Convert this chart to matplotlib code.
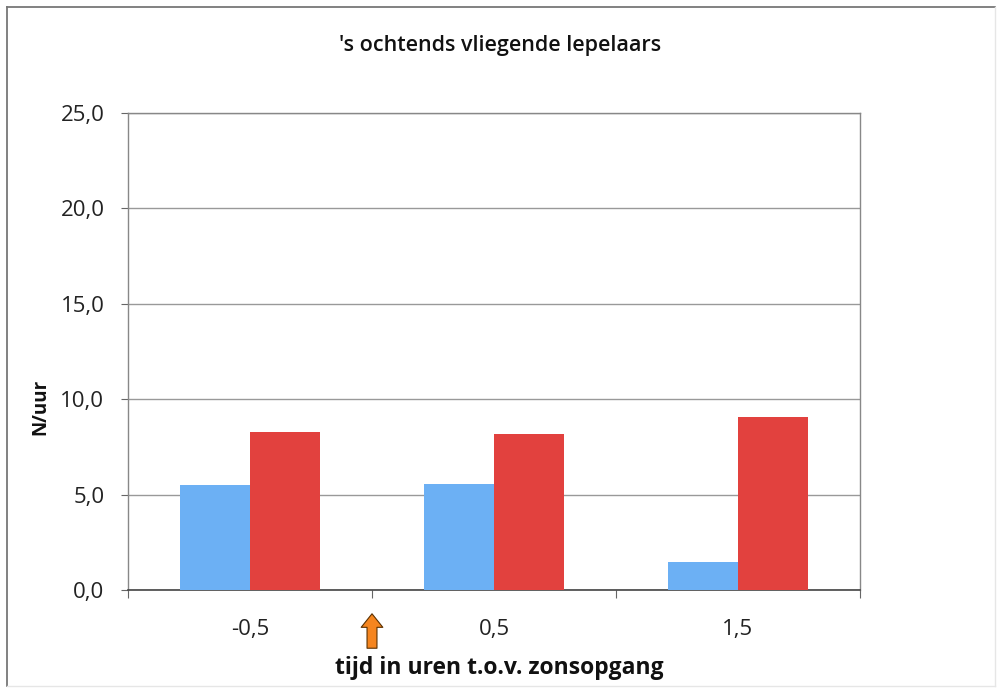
import matplotlib
matplotlib.use("Agg")
import matplotlib.pyplot as plt
from matplotlib.transforms import blended_transform_factory
import numpy as np

# Data
categories = ["-0,5", "0,5", "1,5"]
series_blue = [5.5, 5.55, 1.47]
series_red = [8.28, 8.2, 9.07]
y_ticks = [0, 5, 10, 15, 20, 25]
y_tick_labels = ["0,0", "5,0", "10,0", "15,0", "20,0", "25,0"]

title = "'s ochtends vliegende lepelaars"
xlabel = "tijd in uren t.o.v. zonsopgang"
ylabel = "N/uur"

plt.rcParams["font.family"] = ["Open Sans", "DejaVu Sans"]

fig = plt.figure(figsize=(10, 6.93), dpi=100)
fig.patch.set_facecolor("white")

# outer frame of the chart
fig.add_artist(plt.Line2D([0.007, 0.995], [0.99, 0.99], transform=fig.transFigure,
                          color="#777777", lw=1.3))
fig.add_artist(plt.Line2D([0.007, 0.007], [0.01, 0.99], transform=fig.transFigure,
                          color="#777777", lw=1.3))
fig.add_artist(plt.Line2D([0.995, 0.995], [0.01, 0.99], transform=fig.transFigure,
                          color="#e6e6e6", lw=1.0))
fig.add_artist(plt.Line2D([0.007, 0.995], [0.01, 0.01], transform=fig.transFigure,
                          color="#e6e6e6", lw=1.0))

ax = fig.add_axes([0.128, 0.1486, 0.732, 0.6883])
x = np.arange(len(categories))
w = 0.287
ax.bar(x - w / 2, series_blue, width=w, color="#6cb0f4", zorder=3)
ax.bar(x + w / 2, series_red, width=w, color="#e2413e", zorder=3)

ax.set_xlim(-0.5, len(categories) - 0.5)
ax.set_ylim(0, 25)
ax.set_yticks(y_ticks)
ax.set_yticklabels(y_tick_labels, fontsize=16, color="#222222")
ax.yaxis.grid(True, color="#999999", lw=1.0, zorder=0)
ax.tick_params(axis="y", length=5, width=0.8, color="#666666", pad=12)

ax.set_xticks(x)
ax.set_xticklabels(categories, fontsize=16, color="#222222")
ax.tick_params(axis="x", which="major", length=0, pad=21)
ax.set_xticks(np.arange(-0.5, len(categories)), minor=True)
ax.tick_params(axis="x", which="minor", length=6, width=0.8, color="#666666")

for side in ("left", "right", "top"):
    ax.spines[side].set_color("#888888")
    ax.spines[side].set_linewidth(1.0)
ax.spines["bottom"].set_color("#444444")
ax.spines["bottom"].set_linewidth(1.2)

fig.text(0.5, 0.935, title, ha="center", va="center", fontsize=15.5,
         fontweight="semibold", color="#111111")
fig.text(0.04, 0.413, ylabel, ha="center", va="center", rotation=90,
         fontsize=13.5, fontweight="bold", color="#111111")
fig.text(0.499, 0.036, xlabel, ha="center", va="center", fontsize=16.5,
         fontweight="bold", color="#111111")

# sunrise marker between the first two groups
tr = blended_transform_factory(ax.transData, fig.transFigure)
ax.annotate("", xy=(0.5, 1 - 611 / 693), xytext=(0.5, 1 - 651 / 693),
            xycoords=tr, textcoords=tr, annotation_clip=False,
            arrowprops=dict(arrowstyle="simple,head_length=0.75,head_width=1.2,tail_width=0.55",
                            fc="#f5851f", ec="#5a3000", lw=0.8, mutation_scale=13))

fig.savefig("out.png", dpi=100, facecolor="white")
